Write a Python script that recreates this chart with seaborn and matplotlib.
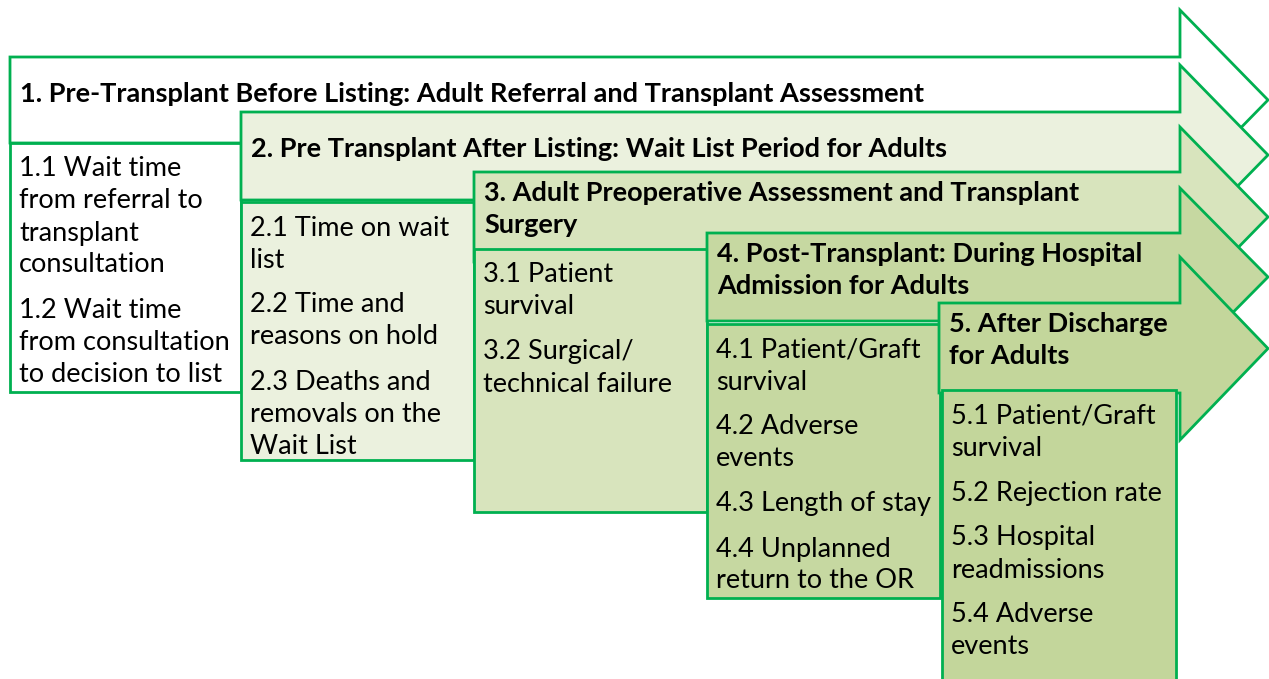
import matplotlib.pyplot as plt
import seaborn as sns
from matplotlib.patches import Polygon, Rectangle

# stage headers (bold) and their measures, one list per stage
headers = [
    ["1. Pre-Transplant Before Listing: Adult Referral and Transplant Assessment"],
    ["2. Pre Transplant After Listing: Wait List Period for Adults"],
    ["3. Adult Preoperative Assessment and Transplant", "Surgery"],
    ["4. Post-Transplant: During Hospital", "Admission for Adults"],
    ["5. After Discharge", "for Adults"],
]

measures = [
    [["1.1 Wait time", "from referral to", "transplant", "consultation"],
     ["1.2 Wait time", "from consultation", "to decision to list"]],
    [["2.1 Time on wait", "list"],
     ["2.2 Time and", "reasons on hold"],
     ["2.3 Deaths and", "removals on the", "Wait List"]],
    [["3.1 Patient", "survival"],
     ["3.2 Surgical/", "technical failure"]],
    [["4.1 Patient/Graft", "survival"],
     ["4.2 Adverse", "events"],
     ["4.3 Length of stay"],
     ["4.4 Unplanned", "return to the OR"]],
    [["5.1 Patient/Graft", "survival"],
     ["5.2 Rejection rate"],
     ["5.3 Hospital", "readmissions"],
     ["5.4 Adverse", "events"]],
]

fills = ["#FFFFFF", "#EBF1DE", "#D8E4BD", "#C6D8A1", "#C3D69B"]
edge = "#00B050"

# layout in pixel units (figure is 1269 x 679)
W, H = 1269, 679
left_x = [10, 241, 474, 707, 939]
shaft = [(57, 143), (112, 200), (172, 262), (233, 321), (303, 393)]
heads = [(10, 190), (65, 245), (127, 307), (188, 366), (257, 440)]
body_top = [143, 202, 249, 324, 390]
body_bot = [392, 460, 512, 598, 700]
body_right = [241, 474, 707, 940, 1176]
neck_x, tip_x = 1180, 1268
line_h, gap = 32, 13

sns.set_style("white")
plt.rcParams['font.family'] = ['Lato', 'DejaVu Sans']

fig = plt.figure(figsize=(W / 100, H / 100), dpi=100)
ax = fig.add_axes([0, 0, 1, 1])
ax.set_xlim(0, W)
ax.set_ylim(H, 0)
ax.axis("off")

for i in range(5):
    x0 = left_x[i]
    st, sb = shaft[i]
    ht, hb = heads[i]
    tip_y = (ht + hb) / 2
    arrow = [(x0, st), (neck_x, st), (neck_x, ht), (tip_x, tip_y),
             (neck_x, hb), (neck_x, sb), (x0, sb)]
    ax.add_patch(Polygon(arrow, closed=True, facecolor=fills[i],
                         edgecolor=edge, lw=2, joinstyle="miter"))

    bx0 = x0 if i < 4 else x0 + 3
    ax.add_patch(Rectangle((bx0, body_top[i]), body_right[i] - bx0,
                           body_bot[i] - body_top[i], facecolor=fills[i],
                           edgecolor=edge, lw=2))

    # header text
    hy = st + 21 if len(headers[i]) > 1 else st + 37
    for k, s in enumerate(headers[i]):
        ax.text(x0 + 10, hy + k * line_h, s, fontsize=19.5, fontweight="bold",
                va="center", ha="left", color="black")

    # measure text
    y = body_top[i] + 26
    for item in measures[i]:
        for s in item:
            ax.text(bx0 + 9, y, s, fontsize=19.5, va="center", ha="left",
                    color="black")
            y += line_h
        y += gap

fig.savefig("out.png", dpi=100)
